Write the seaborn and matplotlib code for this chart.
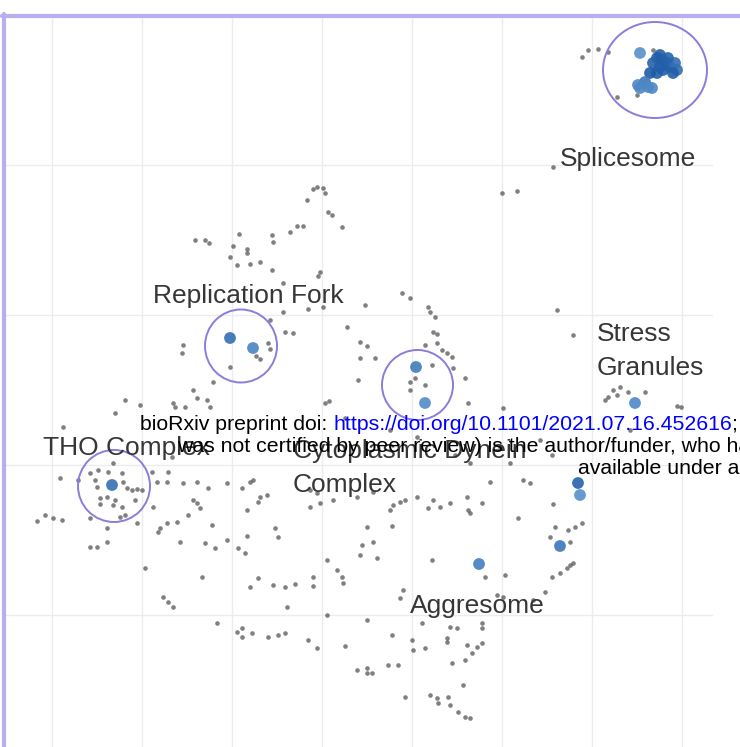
import matplotlib
matplotlib.use("Agg")
import matplotlib.pyplot as plt
from matplotlib.patches import Ellipse
from matplotlib.lines import Line2D
from matplotlib.ticker import MultipleLocator, NullFormatter
import seaborn as sns
import pandas as pd

# ---- embedding coordinates -------------------------------------------------
# all proteins (background)
background = [
    (17.0, 40.8), (17.6, 41.5), (18.6, 41.6), (19.6, 41.3), (24.1, 41.5), (20.5, 36.8),
    (22.5, 37.0), (14.1, 29.8), (9.0, 27.2), (10.5, 27.4), (-21.7, 22.5), (-20.7, 22.5),
    (-20.3, 22.2), (-17.3, 23.1), (-17.9, 21.9), (-16.5, 21.6), (-14.0, 23.0), (-13.9, 22.3),
    (-12.2, 23.3), (-11.5, 23.9), (-10.9, 23.9), (-10.5, 26.5), (-9.9, 27.6), (-9.5, 27.8),
    (-8.9, 27.7), (-8.7, 27.2), (-8.4, 25.3), (-8.0, 25.0), (-7.0, 23.8),
    (-18.2, 20.8), (-17.5, 20.0), (-16.2, 20.1), (-15.2, 20.3), (-16.5, 21.2), (-14.0, 19.5),
    (-9.4, 18.9), (-9.2, 19.3), (-12.9, 18.2), (-12.9, 15.3), (-10.4, 15.6), (-8.9, 15.8),
    (-4.7, 16.0), (-1.0, 17.2), (-0.2, 16.7), (-14.2, 14.5), (-12.7, 13.3), (-11.9, 13.2),
    (-6.5, 13.8), (-5.2, 12.3), (-4.5, 11.9), (1.6, 15.8), (1.8, 15.3), (2.3, 14.8),
    (2.1, 13.3), (2.5, 13.1), (2.5, 12.2), (1.3, 12.0), (3.0, 11.5), (3.5, 11.2),
    (4.0, 10.8), (-5.2, 10.7), (-3.7, 10.7), (-22.9, 12.0), (-23.0, 11.2), (-14.4, 12.2),
    (-14.2, 11.6), (-15.6, 10.9), (-15.2, 10.6), (-18.2, 9.8), (-19.9, 8.3), (-21.9, 7.5),
    (-5.4, 8.5), (14.5, 15.5), (16.1, 13.0), (2.0, 10.0), (4.1, 9.7), (5.3, 8.7),
    (-0.2, 8.3), (0.3, 8.7), (1.3, 8.0), (-0.2, 7.5),
    (-21.5, 6.7), (-20.5, 6.5), (-20.2, 5.8), (-23.9, 6.2), (-23.7, 5.8), (-22.7, 5.8),
    (-28.7, 6.5), (-27.2, 6.0), (-29.7, 5.2), (-8.7, 6.2), (-8.3, 6.4), (5.6, 6.2),
    (9.1, 5.7), (19.6, 6.8), (20.1, 7.5), (20.8, 7.8), (21.6, 7.3), (23.3, 7.3),
    (19.3, 6.5), (20.5, 7.0), (26.5, 5.9), (26.9, 5.8),
    (-34.9, 3.8), (21.8, 3.5), (0.5, 2.8), (8.8, 1.8), (-29.9, 0.2), (-24.0, 0.8),
    (9.8, 0.2), (-6.7, 4.7), (-2.2, 3.5), (4.3, 1.0), (5.8, 0.2), (12.8, 2.5), (14.0, 1.0),
    (-35.2, -1.3), (-33.4, -1.5), (-32.2, -0.8), (-31.4, -0.5), (-30.4, -0.7), (-29.0, -0.8),
    (-31.5, -2.2), (-31.7, -1.5), (-28.9, -1.7), (-28.5, -2.3), (-28.0, -2.5), (-27.5, -2.4),
    (-27.0, -2.5), (-31.2, -3.3), (-30.5, -3.2), (-29.7, -3.5), (-27.7, -3.5), (-26.0, -0.7),
    (-25.5, -1.7), (-24.5, -1.7), (-24.4, -0.7), (-22.9, -1.8), (-21.5, -1.7), (-20.4, -2.3),
    (-18.5, -1.8), (-17.0, -2.3), (-16.2, -1.7), (-15.9, -1.5), (-15.2, -3.2), (-14.5, -3.0),
    (-21.9, -3.5), (-10.2, -2.5), (-9.5, -2.8), (-7.9, -3.5), (-5.5, -3.2), (-3.9, -2.7),
    (-0.7, -3.5), (0.5, -3.2), (2.1, -3.5), (5.5, -3.2), (7.8, -1.7), (11.1, -1.5),
    (11.8, -1.8), (-37.5, -5.6), (-36.7, -5.0), (-35.9, -5.3), (-35.0, -5.5), (-32.2, -5.3),
    (-31.2, -3.9), (-29.9, -4.0), (-29.0, -4.2), (-29.2, -5.2), (-28.7, -5.0), (-27.5, -5.8),
    (-30.5, -6.3), (-32.2, -8.2), (-31.5, -8.2), (-30.5, -7.7), (-25.9, -4.2), (-25.4, -6.7),
    (-25.2, -6.3), (-24.5, -5.8), (-23.5, -5.7), (-22.4, -5.0), (-21.5, -3.8), (-21.2, -4.3),
    (-23.2, -7.7), (-20.0, -6.0), (-20.7, -7.8), (-19.7, -8.3), (-18.5, -7.5), (-17.4, -8.3),
    (-16.7, -8.8), (-16.5, -4.5), (-16.5, -7.1), (-15.4, -3.7), (-13.7, -6.3), (-13.4, -7.2),
    (-10.2, -4.2), (-9.2, -3.8), (-4.5, -6.2), (-5.0, -8.0), (-5.2, -9.0),
    (-2.2, -4.5), (-1.9, -4.0), (-1.2, -3.7), (1.6, -4.3), (2.8, -4.2), (3.8, -3.8),
    (5.6, -4.5), (5.8, -4.8), (7.0, -3.8), (-2.0, -6.1), (-3.9, -7.7), (-3.5, -9.3),
    (2.0, -9.5), (10.6, -5.3), (14.1, -3.9), (14.3, -6.2), (15.6, -6.5), (16.3, -6.2),
    (17.0, -5.8), (13.8, -7.2), (15.8, -7.7),
    (-26.7, -10.3), (-21.0, -11.2), (-8.5, -9.5), (-7.5, -10.5), (-7.0, -11.2), (-6.9, -11.8),
    (-15.4, -11.3), (-16.2, -12.2), (-13.9, -12.0), (-12.7, -12.2), (-11.7, -11.9), (-9.9, -11.2),
    (-9.9, -12.1), (-12.5, -14.2), (-24.9, -13.2), (-24.4, -13.7), (-23.9, -14.2), (-19.5, -15.8),
    (-17.5, -16.7), (-17.0, -16.3), (-17.0, -17.2), (-16.0, -16.8), (-14.4, -17.2), (-13.4, -17.0),
    (-12.7, -16.8), (-10.4, -17.5), (-9.5, -18.3), (-8.5, -15.0), (-6.7, -18.1), (-4.5, -15.5),
    (-5.5, -20.5), (-4.5, -20.3), (-4.5, -20.8), (7.3, -11.2), (9.3, -11.0), (16.1, -9.8),
    (15.8, -10.0), (15.5, -10.3), (14.8, -10.8), (14.0, -11.2), (13.3, -12.7), (12.1, -13.5),
    (8.5, -13.0), (9.1, -13.2), (-0.9, -12.5), (-1.2, -13.3), (1.0, -15.8), (3.8, -16.2),
    (4.5, -16.3), (7.0, -15.8), (7.0, -16.3), (-2.0, -17.0), (0.0, -17.5), (0.1, -18.5),
    (1.3, -18.3), (3.5, -17.3), (3.5, -17.7), (5.5, -18.0), (7.0, -17.8), (6.5, -18.2),
    (6.0, -18.8), (5.3, -19.5), (4.0, -19.8), (-2.4, -20.0), (-1.4, -20.0), (-4.0, -20.8),
    (5.1, -22.0), (-0.7, -23.2), (1.8, -23.0), (2.5, -23.3), (2.6, -23.8), (3.6, -23.2),
    (3.8, -24.0), (4.6, -24.7), (5.3, -25.2), (5.8, -25.3),
]

# highlighted proteins and their enrichment score (0-1)
hits_x = [22.8, 24.5, 24.8, 24.1, 24.8, 25.5, 25.8, 26.3, 26.5, 26.1, 25.1, 24.5, 23.8, 23.3,
          22.6, 22.8, 23.6, 24.0, 25.0, 25.6,
          -18.2, -15.9, 0.4, 1.3, -30.0, 22.3, 16.6, 16.8, 14.8, 6.7]
hits_y = [41.2, 40.7, 41.0, 40.2, 39.8, 40.2, 39.8, 40.2, 39.5, 39.2, 39.5, 39.2, 39.2, 38.3,
          38.0, 37.7, 37.8, 37.7, 40.5, 40.7,
          12.7, 11.7, 9.8, 6.2, -2.0, 6.2, -1.8, -3.0, -8.1, -9.9]
hits_score = [0.3, 0.9, 0.9, 0.85, 0.9, 0.9, 0.85, 0.7, 0.7, 0.9, 0.9, 0.9, 0.95, 0.6,
              0.4, 0.4, 0.4, 0.4, 0.9, 0.85,
              0.7, 0.45, 0.55, 0.35, 0.7, 0.4, 0.85, 0.3, 0.6, 0.5]

# complexes: circle centre / size and label anchor
circle_x = [24.3, -17.1, 0.55, -29.8]
circle_y = [39.5, 11.9, 8.0, -2.1]
circle_w = [10.4, 7.2, 7.1, 7.2]
circle_h = [9.6, 7.3, 7.0, 7.2]

label_text = ["Splicesome", "Replication Fork", "Stress\nGranules", "THO Complex",
              "Cytoplasmic Dynein\nComplex", "Aggresome"]
label_x = [14.8, -25.9, 18.5, -36.9, -11.9, -0.2]
label_y = [29.9, 16.2, 12.4, 1.0, 0.7, -14.8]

# ---- figure ----------------------------------------------------------------
sns.set_theme(style="whitegrid")
plt.rcParams["font.family"] = ["Liberation Sans", "DejaVu Sans"]

W, H = 740, 747
fig = plt.figure(figsize=(W / 100, H / 100), dpi=100)
fig.patch.set_facecolor("white")
ax = fig.add_axes([5 / W, 0, 708 / W, 729 / H])
ax.set_facecolor("white")

bg = pd.DataFrame(background, columns=["umap1", "umap2"])
hits = pd.DataFrame({"umap1": hits_x, "umap2": hits_y, "score": hits_score})

sns.scatterplot(data=bg, x="umap1", y="umap2", color="#4a4a4a", s=11, alpha=0.7,
                linewidth=0, ax=ax, zorder=3)
blues = sns.blend_palette(["#6fa8dc", "#1a57a3"], as_cmap=True)
sns.scatterplot(data=hits, x="umap1", y="umap2", hue="score", palette=blues,
                hue_norm=(0, 1), s=72, linewidth=0, alpha=0.9, legend=False,
                ax=ax, zorder=4)

for cx, cy, w, h in zip(circle_x, circle_y, circle_w, circle_h):
    ax.add_patch(Ellipse((cx, cy), w, h, fill=False, ec="#8a7ddb", lw=1.4, zorder=5))

line_step = 3.4
for txt, lx, ly in zip(label_text, label_x, label_y):
    for i, line in enumerate(txt.split("\n")):
        ax.text(lx, ly - i * line_step, line, ha="left", va="baseline", fontsize=19,
                color="#363636", zorder=6)

ax.set_xlim(-40.7, 30.1)
ax.set_ylim(-28.2, 44.7)
ax.xaxis.set_major_locator(MultipleLocator(9))
ax.yaxis.set_major_locator(MultipleLocator(15))
ax.xaxis.set_major_formatter(NullFormatter())
ax.yaxis.set_major_formatter(NullFormatter())
ax.tick_params(length=0)
ax.grid(True, color="#ececec", linewidth=1.0)
ax.set_xlabel("")
ax.set_ylabel("")
for sp in ax.spines.values():
    sp.set_visible(False)

# panel frame
frame_col = "#b7aff0"
fig.add_artist(Line2D([4 / W, 4 / W], [0, 1 - 14 / H], color=frame_col, lw=3.0,
                      transform=fig.transFigure))
fig.add_artist(Line2D([2 / W, 1], [1 - 15.5 / H, 1 - 15.5 / H], color=frame_col, lw=3.0,
                      transform=fig.transFigure))

# preprint header, pieces placed one after another
hdr = dict(fontsize=15.35, ha="left", va="baseline", family=["Liberation Sans", "DejaVu Sans"])
renderer = fig.canvas.get_renderer()


def run_on(x_px, y_px, pieces):
    for text, col in pieces:
        t = fig.text(x_px / W, 1 - y_px / H, text, color=col, **hdr)
        x_px = t.get_window_extent(renderer=renderer).x1


run_on(140, 430, [("bioRxiv preprint doi:", "black"), (" ", "black"),
                  ("https://doi.org/10.1101/2021.07.16.452616", "#0000ff"),
                  ("; this version posted July 16, 2021.", "black")])
fig.text(177 / W, 1 - 452 / H,
         "was not certified by peer review) is the author/funder, who has granted bioRxiv a license",
         color="black", **hdr)
fig.text(578 / W, 1 - 474 / H, "available under aCC-BY-NC-ND 4.0 International license.",
         color="black", **hdr)

fig.savefig("out.png", dpi=100, facecolor="white")
